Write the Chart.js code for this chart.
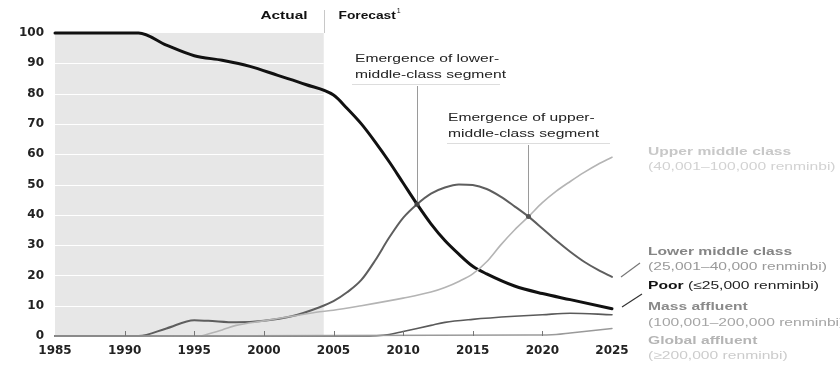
<!DOCTYPE html>
<html><head><meta charset="utf-8">
<script src="https://cdn.jsdelivr.net/npm/chart.js@4/dist/chart.umd.min.js"></script>
<style>html,body{margin:0;padding:0;background:#fff}canvas{display:block}</style>
</head><body>
<canvas id="c" width="840" height="365"></canvas>
<script>
// ---- data ----
const xTicks = [1985, 1990, 1995, 2000, 2005, 2010, 2015, 2020, 2025];
const yTicks = [0, 10, 20, 30, 40, 50, 60, 70, 80, 90, 100];
const actualEndYear = 2004.3;

const poorYears  = [1985, 1991, 1993, 1995, 1997, 1999, 2001, 2003, 2005, 2006, 2007, 2008, 2009, 2010, 2011, 2012, 2013, 2014, 2015, 2016, 2018, 2020, 2022, 2025];
const poorValues = [100, 100, 96, 92.5, 91, 89, 86, 83, 79.5, 75, 70, 64, 57.5, 50.5, 43.5, 37, 31.5, 27, 23, 20.5, 16.5, 14, 12, 9];

const lowerYears  = [1985, 1991, 1993, 1995, 1996, 1998, 2000, 2002, 2004, 2005, 2006, 2007, 2008, 2009, 2010, 2011, 2012, 2013, 2014, 2015, 2016, 2017, 2018, 2019, 2020, 2021, 2022, 2023, 2024, 2025];
const lowerValues = [0, 0, 2.5, 5.2, 5, 4.5, 5, 6.5, 9.5, 11.5, 14.5, 18.5, 25, 32.5, 39, 43.5, 47, 49, 50, 49.8, 48.5, 46, 42.8, 39.4, 35.5, 31.5, 27.8, 24.5, 21.8, 19.5];

const upperYears  = [1995.5, 1997, 1998, 2000, 2002, 2004, 2005, 2007, 2010, 2012, 2013, 2014, 2015, 2016, 2017, 2018, 2019, 2020, 2021, 2022, 2023, 2024, 2025];
const upperValues = [0, 2, 3.5, 5, 6.5, 8, 8.5, 10, 12.5, 14.5, 16, 18, 20.5, 24.5, 30, 35, 39.4, 44, 47.8, 51, 54, 56.7, 59];

const massYears  = [1985, 2007, 2009, 2010, 2011, 2012, 2013, 2015, 2018, 2020, 2022, 2025];
const massValues = [0, 0, 0.5, 1.5, 2.5, 3.5, 4.5, 5.5, 6.5, 7, 7.5, 7];

const globalYears  = [1985, 2019, 2021, 2022, 2023, 2025];
const globalValues = [0, 0.3, 0.5, 1, 1.5, 2.5];

const seriesNames  = ['Upper middle class', 'Lower middle class', 'Poor', 'Mass affluent', 'Global affluent'];
const seriesRanges = ['(40,001–100,000 renminbi)', '(25,001–40,000 renminbi)', '(≤25,000 renminbi)', '(100,001–200,000 renminbi)', '(≥200,000 renminbi)'];
const headerLabels = ['Actual', 'Forecast'];
const annotationLower = ['Emergence of lower-', 'middle-class segment'];
const annotationUpper = ['Emergence of upper-', 'middle-class segment'];
const annotationLowerPoint = [2011, 43.5];
const annotationUpperPoint = [2019, 39.4];

const pts = (xs, ys) => xs.map((x, i) => ({x: x, y: ys[i]}));

function txt(ctx, s, x, y, font, color, sx, align) {
  ctx.save();
  ctx.font = font;
  ctx.fillStyle = color;
  ctx.textBaseline = 'middle';
  ctx.translate(x, y);
  ctx.scale(sx, 1);
  const w = ctx.measureText(s).width;
  let dx = 0;
  if (align === 'right') dx = -w;
  ctx.fillText(s, dx, 0);
  ctx.restore();
  return w * sx;
}
function line(ctx, x1, y1, x2, y2, color, w) {
  ctx.save();
  ctx.strokeStyle = color; ctx.lineWidth = w || 1;
  ctx.beginPath(); ctx.moveTo(x1, y1); ctx.lineTo(x2, y2); ctx.stroke();
  ctx.restore();
}

const backdrop = {
  id: 'backdrop',
  beforeDatasetsDraw(chart) {
    const ctx = chart.ctx, xs = chart.scales.x, ys = chart.scales.y;
    const x0 = xs.getPixelForValue(1985), x1 = xs.getPixelForValue(actualEndYear);
    const yt = ys.getPixelForValue(100), yb = ys.getPixelForValue(0);
    ctx.save();
    ctx.fillStyle = '#e7e7e7';
    ctx.fillRect(x0, yt, x1 - x0, yb - yt);
    yTicks.forEach(v => {
      if (v === 0 || v === 100) return;
      const y = Math.round(ys.getPixelForValue(v)) + 0.5;
      line(ctx, x0, y, x1, y, '#ffffff', 1);
    });
    ctx.restore();
  },
  afterDatasetsDraw(chart) {
    const ctx = chart.ctx, xs = chart.scales.x, ys = chart.scales.y;
    const yb = ys.getPixelForValue(0);
    // small ticks on baseline
    xTicks.slice(1, -1).forEach(t => {
      const x = Math.round(xs.getPixelForValue(t)) + 0.5;
      line(ctx, x, yb - 5, x, yb, '#777', 1);
    });
    // header
    const xs0 = Math.round(xs.getPixelForValue(actualEndYear)) + 0.5;
    line(ctx, xs0, 10, xs0, 33, '#c8c8c8', 1);
    txt(ctx, headerLabels[0], xs0 - 17, 16, 'bold 11px "Liberation Sans"', '#111', 1.4, 'right');
    const w = txt(ctx, headerLabels[1], xs0 + 14, 16, 'bold 11px "Liberation Sans"', '#111', 1.25, 'left');
    txt(ctx, '1', xs0 + 14 + w + 1, 11, '7px "Liberation Sans"', '#111', 1, 'left');

    // annotation: lower-middle
    let px = xs.getPixelForValue(annotationLowerPoint[0]), py = ys.getPixelForValue(annotationLowerPoint[1]);
    txt(ctx, annotationLower[0], 355, 59, '11px "Liberation Sans"', '#222', 1.42, 'left');
    txt(ctx, annotationLower[1], 355, 75, '11px "Liberation Sans"', '#222', 1.42, 'left');
    line(ctx, 352, 84.5, 500, 84.5, '#dddddd', 1);
    line(ctx, Math.round(px) + 0.5, 86, Math.round(px) + 0.5, py, '#9a9a9a', 1);
    ctx.save(); ctx.fillStyle = '#444'; ctx.beginPath(); ctx.arc(px, py, 2.5, 0, Math.PI * 2); ctx.fill(); ctx.restore();

    // annotation: upper-middle
    px = xs.getPixelForValue(annotationUpperPoint[0]); py = ys.getPixelForValue(annotationUpperPoint[1]);
    txt(ctx, annotationUpper[0], 448, 118, '11px "Liberation Sans"', '#222', 1.42, 'left');
    txt(ctx, annotationUpper[1], 448, 134, '11px "Liberation Sans"', '#222', 1.42, 'left');
    line(ctx, 447, 143.5, 610, 143.5, '#dddddd', 1);
    line(ctx, Math.round(px) + 0.5, 145, Math.round(px) + 0.5, py, '#9a9a9a', 1);
    ctx.save(); ctx.fillStyle = '#555'; ctx.beginPath(); ctx.arc(px, py, 2.5, 0, Math.PI * 2); ctx.fill(); ctx.restore();

    // right labels
    const lx = 648, sx = 1.42;
    txt(ctx, seriesNames[0], lx, 152, 'bold 11px "Liberation Sans"', '#c8c8c8', sx, 'left');
    txt(ctx, seriesRanges[0], lx, 167, '11px "Liberation Sans"', '#d2d2d2', sx, 'left');
    txt(ctx, seriesNames[1], lx, 252, 'bold 11px "Liberation Sans"', '#858585', sx, 'left');
    txt(ctx, seriesRanges[1], lx, 267, '11px "Liberation Sans"', '#9a9a9a', sx, 'left');
    const pw = txt(ctx, seriesNames[2], lx, 286, 'bold 11px "Liberation Sans"', '#111', sx, 'left');
    txt(ctx, ' ' + seriesRanges[2], lx + pw, 286, '11px "Liberation Sans"', '#222', sx, 'left');
    txt(ctx, seriesNames[3], lx, 307, 'bold 11px "Liberation Sans"', '#8a8a8a', sx, 'left');
    txt(ctx, seriesRanges[3], lx, 323, '11px "Liberation Sans"', '#a5a5a5', sx, 'left');
    txt(ctx, seriesNames[4], lx, 341, 'bold 11px "Liberation Sans"', '#b5b5b5', sx, 'left');
    txt(ctx, seriesRanges[4], lx, 356, '11px "Liberation Sans"', '#cccccc', sx, 'left');
    // leader lines
    line(ctx, 621, 277, 640, 263, '#777', 1.2);
    line(ctx, 622, 307, 642, 294, '#333', 1.2);
  }
};

const ds = (label, data, color, width) => ({
  label, data, borderColor: color, borderWidth: width, pointRadius: 0,
  cubicInterpolationMode: 'monotone', fill: false, clip: false,
  borderJoinStyle: 'round', borderCapStyle: 'round'
});

new Chart(document.getElementById('c'), {
  type: 'line',
  data: {
    datasets: [
      ds(seriesNames[4], pts(globalYears, globalValues), '#9a9a9a', 1.5),
      ds(seriesNames[3], pts(massYears, massValues), '#5a5a5a', 1.6),
      ds(seriesNames[0], pts(upperYears, upperValues), '#b4b4b4', 1.6),
      ds(seriesNames[1], pts(lowerYears, lowerValues), '#5e5e5e', 2),
      ds(seriesNames[2], pts(poorYears, poorValues), '#111111', 3)
    ]
  },
  options: {
    responsive: false,
    devicePixelRatio: 1,
    animation: false,
    events: [],
    layout: { padding: { left: 0, top: 33, right: 228, bottom: 0 } },
    plugins: { legend: { display: false }, tooltip: { enabled: false } },
    scales: {
      x: {
        type: 'linear', min: 1985, max: 2025,
        afterBuildTicks: s => { s.ticks = xTicks.map(v => ({value: v})); },
        afterFit: s => { s.height = 29; },
        grid: { display: false, drawTicks: false },
        border: { display: false },
        ticks: { padding: 8, color: '#222', font: { family: 'DejaVu Sans', size: 12, weight: 'bold' }, callback: v => String(v) }
      },
      y: {
        min: 0, max: 100,
        afterBuildTicks: s => { s.ticks = yTicks.map(v => ({value: v})); },
        afterFit: s => { s.width = 55; },
        grid: { display: false, drawTicks: false },
        border: { display: false },
        ticks: { padding: 11, color: '#222', font: { family: 'DejaVu Sans', size: 12, weight: 'bold' } }
      }
    }
  },
  plugins: [backdrop]
});
</script>
</body></html>
